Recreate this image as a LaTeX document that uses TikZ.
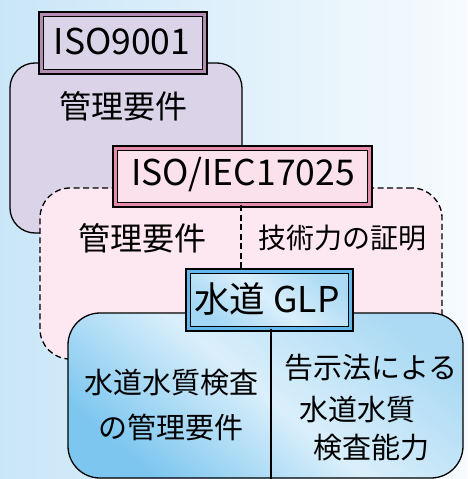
\documentclass[tikz,border=0pt]{standalone}
\usepackage{fontspec}
\setmainfont{Noto Sans CJK JP}
\definecolor{bgL}{HTML}{C9E6F8}
\definecolor{bgR}{HTML}{F6FBFE}
\definecolor{purpfill}{HTML}{DBD4E9}
\definecolor{purpband}{HTML}{B38CB4}
\definecolor{pinkfill}{HTML}{FDE7F0}
\definecolor{iecfill}{HTML}{FBE1EB}
\definecolor{iecband}{HTML}{E58AAB}
\definecolor{blueband}{HTML}{62B8E8}
\definecolor{blueD}{HTML}{7CC6EF}
\definecolor{blueM}{HTML}{DAEFFB}
\definecolor{blueL}{HTML}{ACDAF4}
\tikzset{
  bigbox/.style={draw=black, line width=1.3pt, inner sep=0pt},
  labelbox/.style={draw=black, line width=1.4pt, double distance=3.2pt, inner sep=0pt},
  txt/.style={font=\fontsize{29}{29}\selectfont, inner sep=0pt},
  txtbig/.style={font=\fontsize{32}{32}\selectfont, inner sep=0pt},
  txtsmall/.style={font=\fontsize{28}{28}\selectfont, inner sep=0pt},
  lbl/.style={font=\fontsize{35.5}{35.5}\selectfont, inner sep=0pt},
  divider/.style={draw=black, line width=1.2pt},
  dashpat/.style={dashed, dash pattern=on 6pt off 3.5pt},
}
\begin{document}
\begin{tikzpicture}[x=1pt,y=-1pt]
\useasboundingbox (0,0) rectangle (467,479);
\fill[left color=bgL, right color=bgR] (0,0) rectangle (467,479);
% ISO9001 layer
\node[bigbox, rounded corners=25pt, fill=purpfill, minimum width=232pt, minimum height=170pt] (purp) at (126,148) {};
\node[labelbox, double=purpband, fill=purpfill, minimum width=163.5pt, minimum height=57.5pt] (iso9) at (123,43) {};
\node[lbl] (iso9t) at (122,41) {ISO9001};
\node[txtbig] (purpt) at (123.5,106) {管理要件};
% ISO/IEC layer
\node[bigbox, rounded corners=30pt, dashpat, fill=pinkfill, minimum width=402pt, minimum height=171pt] (pink) at (241,273.5) {};
\node[labelbox, double=iecband, fill=iecfill, minimum width=254.5pt, minimum height=56.5pt] (iec) at (242.5,176.5) {};
\node[lbl] (iect) at (243,175) {ISO/IEC17025};
\node[txtbig] (pinkl) at (142.5,238) {管理要件};
\node[txtsmall] (pinkr) at (342,238) {技術力の証明};
% GLP layer
\node[bigbox, rounded corners=32pt, top color=blueL, bottom color=blueD, middle color=blueM, shading angle=-40, minimum width=395pt, minimum height=165pt] (blue) at (265.5,395.5) {};
\node[labelbox, double=blueband, top color=blueL, bottom color=blueD!70!white, middle color=blueM, shading angle=-40, minimum width=162.5pt, minimum height=57.5pt] (glp) at (269.5,300) {};
\node[lbl] (glpt) at (267,299) {水道 GLP};
\coordinate (pd) at (241,0);
\coordinate (bd) at (271,0);
\draw[divider, dashpat] (iec.south -| pd) -- (glp.north -| pd);
\draw[divider] (glp.south -| bd) -- (blue.south -| bd);
\node[txt] (bl1) at (171,383) {水道水質検査};
\node[txt] (bl2) at (171,427) {の管理要件};
\node[txt, anchor=west] (br1) at (284,368) {告示法による};
\node[txt, anchor=west] (br2) at (299,410) {水道水質};
\node[txt, anchor=west] (br3) at (313,448) {検査能力};
\end{tikzpicture}
\end{document}
